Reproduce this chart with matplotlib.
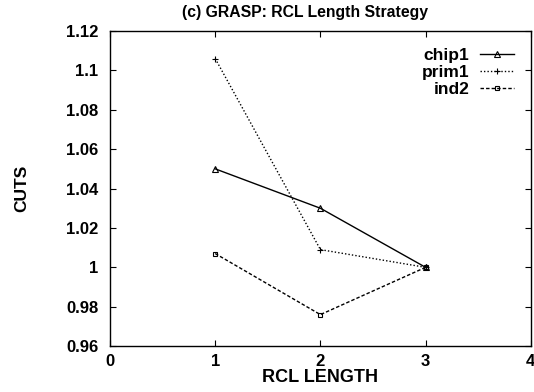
import matplotlib
matplotlib.use("Agg")
import matplotlib.pyplot as plt

plt.rcParams['font.family'] = ['Liberation Sans', 'DejaVu Sans']
plt.rcParams['font.weight'] = 'bold'

x_vals = [1, 2, 3]
chip1 = [1.05, 1.03, 1.0]
prim1 = [1.106, 1.009, 1.0]
ind2 = [1.007, 0.976, 1.0]
xticks = [0, 1, 2, 3, 4]
yticks = [0.96, 0.98, 1.0, 1.02, 1.04, 1.06, 1.08, 1.1, 1.12]
ytick_labels = ['0.96', '0.98', '1', '1.02', '1.04', '1.06', '1.08', '1.1', '1.12']

fig = plt.figure(figsize=(5.34, 3.92), dpi=100)
ax = fig.add_axes([0.206, 0.117, 0.788, 0.804])

ax.plot(x_vals, chip1, color='black', lw=1.0, ls='-', marker='^', ms=4,
        mfc='none', mew=0.8, label='chip1')
ax.plot(x_vals, prim1, color='black', lw=1.0, ls=(0, (1, 1.5)), marker='+', ms=4,
        mew=0.8, label='prim1')
ax.plot(x_vals, ind2, color='black', lw=1.0, ls=(0, (2.5, 1.5)), marker='s', ms=3.5,
        mfc='none', mew=0.8, label='ind2')

ax.set_xlim(0, 4)
ax.set_ylim(0.96, 1.12)
ax.set_xticks(xticks)
ax.set_yticks(yticks)
ax.set_yticklabels(ytick_labels)
ax.tick_params(direction='in', top=True, right=True, length=4, width=0.8,
               labelsize=12)
ax.tick_params(axis='y', pad=8.5)
ax.tick_params(axis='x', pad=6)
for s in ax.spines.values():
    s.set_linewidth(1.0)

ax.set_xlabel('RCL LENGTH', fontsize=13, fontweight='bold', labelpad=0)
ax.set_ylabel('CUTS', fontsize=12.5, fontweight='bold', labelpad=26)
fig.text(305 / 534, 1 - 13 / 392, '(c) GRASP: RCL Length Strategy',
         fontsize=11.3, fontweight='bold', ha='center', va='center')

leg = ax.legend(loc='upper right', markerfirst=False, frameon=False,
                fontsize=12.5, handlelength=2.0, handletextpad=0.6,
                labelspacing=0.12, borderaxespad=0.55)
for t in leg.get_texts():
    t.set_ha('right')
    t.set_fontweight('bold')

fig.savefig('out.png', dpi=100)
